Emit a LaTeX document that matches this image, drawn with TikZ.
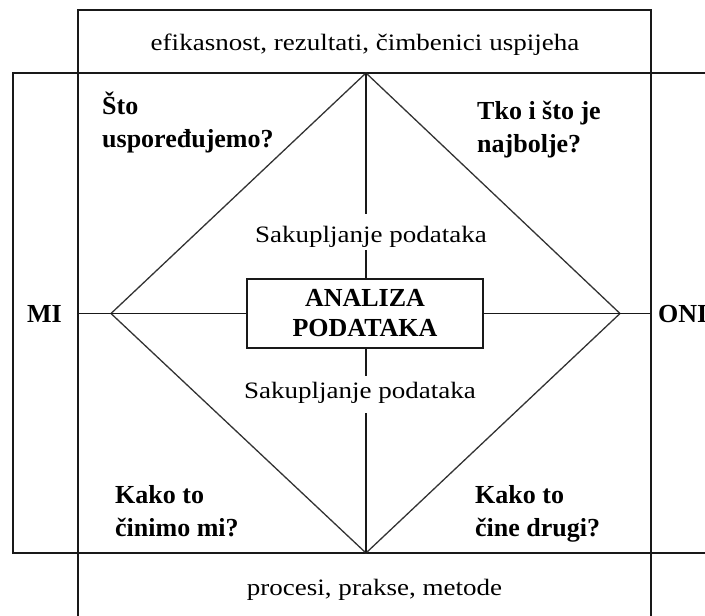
\documentclass[tikz,border=0pt]{standalone}
\usepackage{fontspec}
\setmainfont{Liberation Serif}
\newfontfamily\widefont[FakeStretch=1.15]{Liberation Serif}
\begin{document}
\begin{tikzpicture}[x=1pt, y=-1pt]
	\tikzstyle{frame} = [line width=1.6pt, draw=black!90]
	\tikzstyle{rhomb} = [line width=1.3pt, draw=black!80]
	\tikzstyle{plain} = [inner sep=0pt, anchor=base, font=\widefont\fontsize{23.5}{28}\selectfont]
	\tikzstyle{question} = [inner sep=0pt, align=left, anchor=base west, font=\bfseries\fontsize{26}{33}\selectfont]
	\tikzstyle{side} = [inner sep=0pt, anchor=base, font=\bfseries\fontsize{26}{30}\selectfont]
	\tikzstyle{box} = [draw=black!90, line width=1.6pt, minimum width=236pt, minimum height=69pt, align=center, font=\bfseries\fontsize{26}{30}\selectfont]
	\useasboundingbox (0,0) rectangle (705,616);
	\clip (0,0) rectangle (705,616);
	\coordinate (tl) at (78,10);
	\coordinate (tr) at (651,10);
	\coordinate (bl) at (78,640);
	\coordinate (br) at (651,640);
	\draw[frame] (bl) -- (tl) -- (tr) -- (br);
	\draw[frame] (730,73) -- (13,73) -- (13,553) -- (730,553);
	\coordinate (dtop) at (366,73);
	\coordinate (dleft) at (111,313.5);
	\coordinate (dright) at (620,313.5);
	\coordinate (dbot) at (366,553);
	\draw[rhomb] (dtop) -- (dleft) -- (dbot) -- (dright) -- cycle;
	\node[plain](ciljevi) at (365,50) {efikasnost, rezultati, čimbenici uspijeha};
	\node[plain](procesi) at (374.5,595) {procesi, prakse, metode};
	\node[side](mi) at (44.5,322) {MI};
	\node[side, anchor=base west](oni) at (658,322) {ONI};
	\node[box](analiza) at (365,313.5) {ANALIZA\\PODATAKA};
	\node[plain](sgore) at (371,242) {Sakupljanje podataka};
	\node[plain](sdolje) at (360,398) {Sakupljanje podataka};
	\node[question](q1) at (102,147) {Što\\uspoređujemo?};
	\node[question](q2) at (477,152) {Tko i što je\\najbolje?};
	\node[question](q3) at (115,536) {Kako to\\činimo mi?};
	\node[question](q4) at (475,536) {Kako to\\čine drugi?};
	\draw[frame] (analiza.west) -- (analiza.west -| tl);
	\draw[frame] (analiza.east) -- (analiza.east -| tr);
	\draw[frame] (dtop) -- ([yshift=11pt]dtop |- sgore.north);
	\draw[frame] ([yshift=-3pt]dtop |- sgore.south) -- (analiza.north -| dtop);
	\draw[frame] (analiza.south -| dtop) -- ([yshift=5pt]dtop |- sdolje.north);
	\draw[frame] ([yshift=-10pt]dtop |- sdolje.south) -- (dbot);
\end{tikzpicture}
\end{document}
